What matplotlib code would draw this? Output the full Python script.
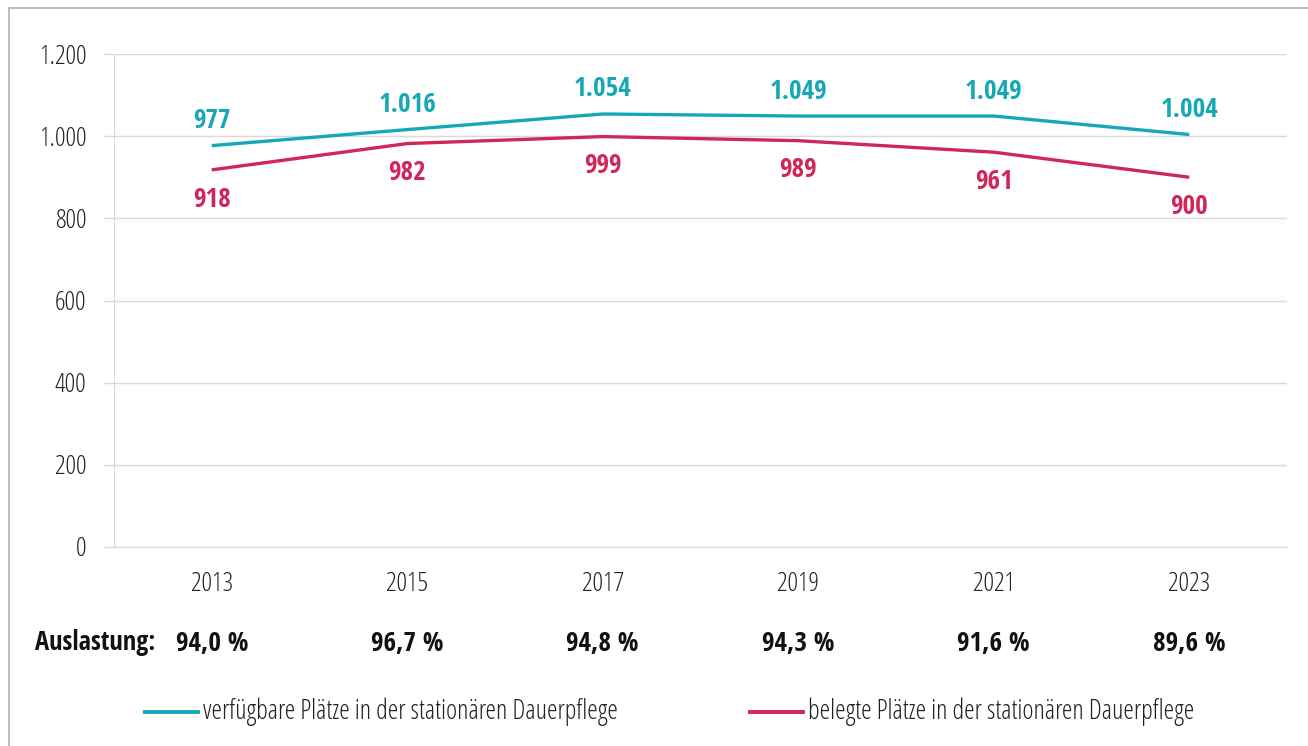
import matplotlib

matplotlib.use("Agg")
import matplotlib.pyplot as plt  # noqa: E402
from matplotlib.patches import Rectangle  # noqa: E402
from matplotlib.transforms import blended_transform_factory  # noqa: E402

CYAN = "#17a8b8"
RED = "#d1265a"
GRID = "#d9d9d9"
BOLD = ["Open Sans Condensed", "DejaVu Sans"]

years = ["2013", "2015", "2017", "2019", "2021", "2023"]
verfuegbar = [977, 1016, 1054, 1049, 1049, 1004]
belegt = [918, 982, 999, 989, 961, 900]
auslastung = ["94,0 %", "96,7 %", "94,8 %", "94,3 %", "91,6 %", "89,6 %"]
yticks = [0, 200, 400, 600, 800, 1000, 1200]

plt.rcParams["font.family"] = ["Open Sans", "DejaVu Sans"]
plt.rcParams["font.stretch"] = "condensed"
plt.rcParams["font.weight"] = 300


def de(v):
    return f"{v:,}".replace(",", ".")


fig = plt.figure(figsize=(13.08, 7.46), dpi=100)
fig.patches.append(Rectangle((9 / 1308, -0.1), 1.2, 1.1 - 8 / 746, transform=fig.transFigure,
                             fill=False, edgecolor="#b5aeab", linewidth=1.2))
ax = fig.add_axes([114 / 1308, 1 - 547 / 746, (1287 - 114) / 1308, (547 - 54) / 746])

xs = list(range(len(years)))
ax.plot(xs, verfuegbar, color=CYAN, linewidth=2.4, solid_capstyle="butt")
ax.plot(xs, belegt, color=RED, linewidth=2.4, solid_capstyle="butt")

for x, v in zip(xs, verfuegbar):
    ax.annotate(de(v), (x, v), xytext=(0, 18), textcoords="offset points", ha="center", va="center",
                fontsize=19.5, family=BOLD, fontweight="bold", color=CYAN)
for x, v in zip(xs, belegt):
    ax.annotate(de(v), (x, v), xytext=(0, -21), textcoords="offset points", ha="center", va="center",
                fontsize=19.5, family=BOLD, fontweight="bold", color=RED)

ax.set_xlim(-0.5, len(years) - 0.5)
ax.set_ylim(0, 1200)
ax.set_yticks(yticks)
ax.set_yticklabels([de(t) for t in yticks])
ax.set_xticks(xs)
ax.set_xticklabels(years)
ax.tick_params(axis="y", length=7, color=GRID, width=1, labelsize=19, pad=13, labelcolor="#222222")
ax.tick_params(axis="x", length=0, labelsize=19, pad=18, labelcolor="#222222")
ax.grid(True, axis="y", color=GRID, linewidth=1)
ax.set_axisbelow(True)
for side in ["top", "right"]:
    ax.spines[side].set_visible(False)
ax.spines["left"].set_color(GRID)
ax.spines["bottom"].set_color(GRID)

# Auslastung row below the x axis
row_y = 1 - 643 / 746
fig.text(155 / 1308, row_y, "Auslastung:", ha="right", va="center",
         fontsize=19, family=BOLD, fontweight="bold", color="#111111")
row_tr = blended_transform_factory(ax.transData, fig.transFigure)
for x, a in zip(xs, auslastung):
    ax.text(x, row_y, a, transform=row_tr, ha="center", va="center",
            fontsize=19.5, family=BOLD, fontweight="bold", color="#111111")

# legend
leg = [(145, CYAN, "verfügbare Plätze in der stationären Dauerpflege"),
       (750, RED, "belegte Plätze in der stationären Dauerpflege")]
ly = 1 - 712 / 746
for x0, c, lab in leg:
    fig.add_artist(plt.Line2D([x0 / 1308, (x0 + 53) / 1308], [ly, ly], transform=fig.transFigure,
                              color=c, linewidth=2.8))
    fig.text((x0 + 58) / 1308, ly, lab, ha="left", va="center", fontsize=19.2, color="#222222")

fig.savefig("out.png", dpi=100, facecolor="white")
